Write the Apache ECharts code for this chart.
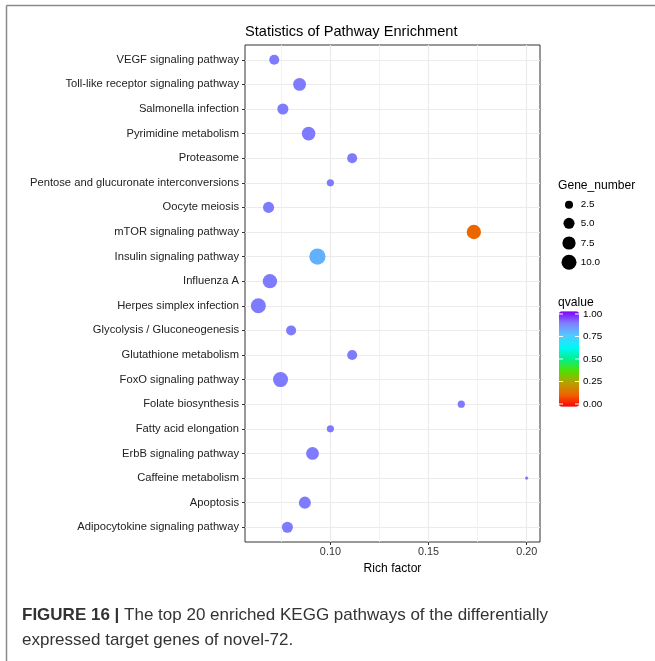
<!DOCTYPE html>
<html>
<head>
<meta charset="utf-8">
<script src="https://cdn.jsdelivr.net/npm/echarts@6/dist/echarts.min.js"></script>
<style>
  html, body { margin: 0; padding: 0; background: #fff; }
  #chart { width: 655px; height: 661px; }
</style>
</head>
<body>
<div id="chart"></div>
<script>
// KEGG pathway enrichment, top 20 pathways
const categories = [
  'VEGF signaling pathway',
  'Toll-like receptor signaling pathway',
  'Salmonella infection',
  'Pyrimidine metabolism',
  'Proteasome',
  'Pentose and glucuronate interconversions',
  'Oocyte meiosis',
  'mTOR signaling pathway',
  'Insulin signaling pathway',
  'Influenza A',
  'Herpes simplex infection',
  'Glycolysis / Gluconeogenesis',
  'Glutathione metabolism',
  'FoxO signaling pathway',
  'Folate biosynthesis',
  'Fatty acid elongation',
  'ErbB signaling pathway',
  'Caffeine metabolism',
  'Apoptosis',
  'Adipocytokine signaling pathway'
];
const richFactor = [0.0714, 0.0843, 0.0758, 0.0889, 0.1111, 0.1000, 0.0685, 0.1731, 0.0934, 0.0692,
                    0.0633, 0.0800, 0.1111, 0.0746, 0.1667, 0.1000, 0.0909, 0.2000, 0.0870, 0.0781];
const geneNumber = [4, 7, 5, 8, 4, 2, 5, 9, 12, 9,
                    10, 4, 4, 10, 2, 2, 7, 1, 6, 5];
const qvalue = [0.88, 0.88, 0.88, 0.88, 0.88, 0.88, 0.88, 0.13, 0.79, 0.88,
                0.88, 0.88, 0.88, 0.88, 0.88, 0.88, 0.88, 0.88, 0.88, 0.88];

// axis / legend tick values
const xTickValues = [0.10, 0.15, 0.20];
const xMinorValues = [0.075, 0.125, 0.175];
const sizeBreaks = [2.5, 5.0, 7.5, 10.0];
const colorBreaks = [1.00, 0.75, 0.50, 0.25, 0.00];

// rainbow palette, low qvalue -> high qvalue
const rainbow = ['#FF0000', '#EE6400', '#B8A000', '#50E000', '#00F090',
                 '#00F8F8', '#55C8FF', '#7F80FF', '#8000FF'];

// point diameter from gene count (area scale)
function dotSize(n) {
  return 3.3 + 3.9 * Math.sqrt(Math.max(n - 1, 0));
}

const FONT = '"Liberation Sans", Arial, Helvetica, sans-serif';
const rowIndex = categories.map((_, i) => i + 1);
const points = categories.map((c, i) => [richFactor[i], i + 1, geneNumber[i], qvalue[i]]);

// legend layout
const legendX = 569;
const sizeKeyY = [204.7, 223.3, 243, 262.3];
const barLeft = 559, barTop = 311.3, barW = 20, barH = 95.4, barInset = 2.7;

const graphics = [];
// figure frame (left and top rules)
graphics.push({ type: 'line', shape: { x1: 6.5, y1: 5.5, x2: 655, y2: 5.5 }, style: { stroke: '#8a8a8a', lineWidth: 1.5 } });
graphics.push({ type: 'line', shape: { x1: 6.5, y1: 5.5, x2: 6.5, y2: 661 }, style: { stroke: '#8a8a8a', lineWidth: 1.5 } });

// size legend
graphics.push({ type: 'text', x: 558, y: 186, style: { text: 'Gene_number', font: '12.1px ' + FONT, fill: '#000', verticalAlign: 'middle' } });
sizeBreaks.forEach((b, i) => {
  graphics.push({ type: 'circle', shape: { cx: legendX, cy: sizeKeyY[i], r: dotSize(b) / 2 }, style: { fill: '#000' } });
  graphics.push({ type: 'text', x: 580.7, y: sizeKeyY[i], style: { text: b.toFixed(1), font: '9.9px ' + FONT, fill: '#000', verticalAlign: 'middle' } });
});

// colour bar legend labels and ticks
graphics.push({ type: 'text', x: 558, y: 302.5, style: { text: 'qvalue', font: '12.1px ' + FONT, fill: '#000', verticalAlign: 'middle' } });
colorBreaks.forEach(v => {
  const y = barTop + barInset + (1 - v) * (barH - 2 * barInset);
  graphics.push({ type: 'line', shape: { x1: barLeft, y1: y, x2: barLeft + 4, y2: y }, style: { stroke: '#fff', lineWidth: 1 }, z: 100 });
  graphics.push({ type: 'line', shape: { x1: barLeft + barW - 4, y1: y, x2: barLeft + barW, y2: y }, style: { stroke: '#fff', lineWidth: 1 }, z: 100 });
  graphics.push({ type: 'text', x: 583, y: y, style: { text: v.toFixed(2), font: '9.9px ' + FONT, fill: '#000', verticalAlign: 'middle' } });
});

// figure caption
graphics.push({ type: 'text', x: 22, y: 615, style: { text: '{b|FIGURE 16 |} The top 20 enriched KEGG pathways of the differentially', font: '17px ' + FONT, fill: '#333', verticalAlign: 'middle', rich: { b: { fontWeight: 'bold', fontSize: 17, fontFamily: FONT, fill: '#333' } } } });
graphics.push({ type: 'text', x: 22, y: 640, style: { text: 'expressed target genes of novel-72.', font: '17px ' + FONT, fill: '#333', verticalAlign: 'middle' } });

const chart = echarts.init(document.getElementById('chart'), null, { renderer: 'canvas' });
chart.setOption({
  animation: false,
  backgroundColor: '#fff',
  title: {
    text: 'Statistics of Pathway Enrichment',
    left: 240, top: 19,
    textStyle: { fontFamily: FONT, fontSize: 14.6, fontWeight: 'normal', color: '#000' }
  },
  grid: { left: 245, right: 115, top: 45, bottom: 119, show: true, borderColor: '#333', borderWidth: 1, backgroundColor: 'transparent' },
  xAxis: [
    {
      type: 'value', min: 0.0565, max: 0.2068,
      name: 'Rich factor', nameLocation: 'middle', nameGap: 19,
      nameTextStyle: { fontFamily: FONT, fontSize: 12.1, color: '#000', verticalAlign: 'top' },
      axisLine: { show: false },
      axisTick: { show: true, length: 3, customValues: xTickValues, lineStyle: { color: '#333' } },
      axisLabel: { customValues: xTickValues, formatter: v => v.toFixed(2), fontFamily: FONT, fontSize: 10.8, color: '#333', margin: 5 },
      splitLine: { show: true, lineStyle: { color: '#EBEBEB', width: 1.2 } }
    },
    {
      type: 'value', min: 0.0565, max: 0.2068, position: 'top',
      axisLine: { show: false },
      axisTick: { show: false, customValues: xMinorValues },
      axisLabel: { show: false, customValues: xMinorValues },
      splitLine: { show: true, lineStyle: { color: '#F0F0F0', width: 0.9 } }
    }
  ],
  yAxis: {
    type: 'value', inverse: true, min: 0.4, max: 20.6,
    axisLine: { show: false },
    axisTick: { show: true, length: 3, customValues: rowIndex, lineStyle: { color: '#333' } },
    axisLabel: { customValues: rowIndex, formatter: v => categories[Math.round(v) - 1], fontFamily: FONT, fontSize: 11.2, color: '#222', margin: 6 },
    splitLine: { show: true, lineStyle: { color: '#EBEBEB', width: 1.2 } }
  },
  visualMap: {
    type: 'continuous', dimension: 3, min: 0, max: 1, seriesIndex: 0,
    calculable: false, show: true, orient: 'vertical',
    left: barLeft, top: barTop, itemWidth: barW, itemHeight: barH, padding: 0,
    text: null, showLabel: false,
    inRange: { color: rainbow }
  },
  series: [{
    type: 'scatter',
    data: points,
    symbol: 'circle',
    symbolSize: d => dotSize(d[2]),
    itemStyle: { opacity: 1 }
  }],
  graphic: graphics
});
</script>
</body>
</html>
